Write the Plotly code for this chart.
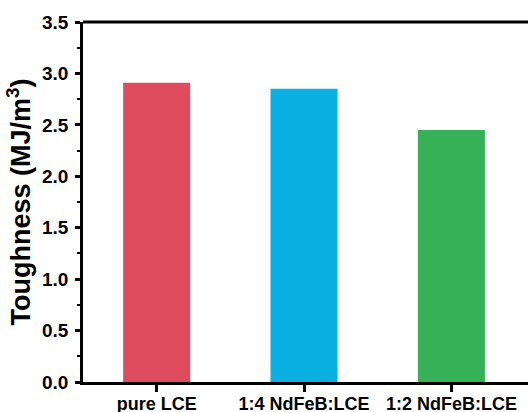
import plotly.graph_objects as go

categories = ["pure LCE", "1:4 NdFeB:LCE", "1:2 NdFeB:LCE"]
toughness = [2.91, 2.85, 2.45]
bar_colors = ["#DD4B5C", "#0AB0E2", "#37B158"]
y_ticks = [0.0, 0.5, 1.0, 1.5, 2.0, 2.5, 3.0, 3.5]

fig = go.Figure(go.Bar(
    x=list(range(len(categories))),
    y=toughness,
    marker=dict(color=bar_colors, line=dict(width=0)),
    width=0.455,
))

font = "Arial, Liberation Sans, sans-serif"
fig.update_layout(
    width=528, height=412,
    margin=dict(l=83, r=0, t=22, b=30),
    plot_bgcolor="white", paper_bgcolor="white",
    showlegend=False,
    font=dict(family=font, color="black"),
)
fig.update_xaxes(
    range=[-0.5, 2.52],
    tickvals=list(range(len(categories))),
    ticktext=[f"<b>{c}</b>" for c in categories],
    tickfont=dict(size=18, family=font, color="black"),
    ticklabelstandoff=-4,
    showline=True, linecolor="black", linewidth=2.8,
    mirror=False,
    ticks="outside", ticklen=7, tickwidth=2.5, tickcolor="black",
    showgrid=False, zeroline=False, automargin=False,
)
fig.update_yaxes(
    range=[0, 3.5],
    tickvals=y_ticks,
    ticktext=[f"<b>{v:.1f}</b>" for v in y_ticks],
    tickfont=dict(size=19, family=font, color="black"),
    ticklabelstandoff=3,
    showline=True, linecolor="black", linewidth=2.8,
    ticks="outside", ticklen=5, tickwidth=2.5, tickcolor="black",
    minor=dict(dtick=0.25, ticks="outside", ticklen=3, tickwidth=1.5, tickcolor="black", showgrid=False),
    showgrid=False, zeroline=False, automargin=False,
    title=dict(text="<b>Toughness (MJ/m<sup>3</sup>)</b>", font=dict(size=27, family=font, color="black"), standoff=4),
)
# top border line
fig.add_shape(type="line", xref="paper", yref="paper", x0=0, x1=1, y0=1, y1=1,
              line=dict(color="black", width=2.8))

fig.write_html("out.html", config={"displayModeBar": False},
               post_script="document.body.style.margin='0';")
